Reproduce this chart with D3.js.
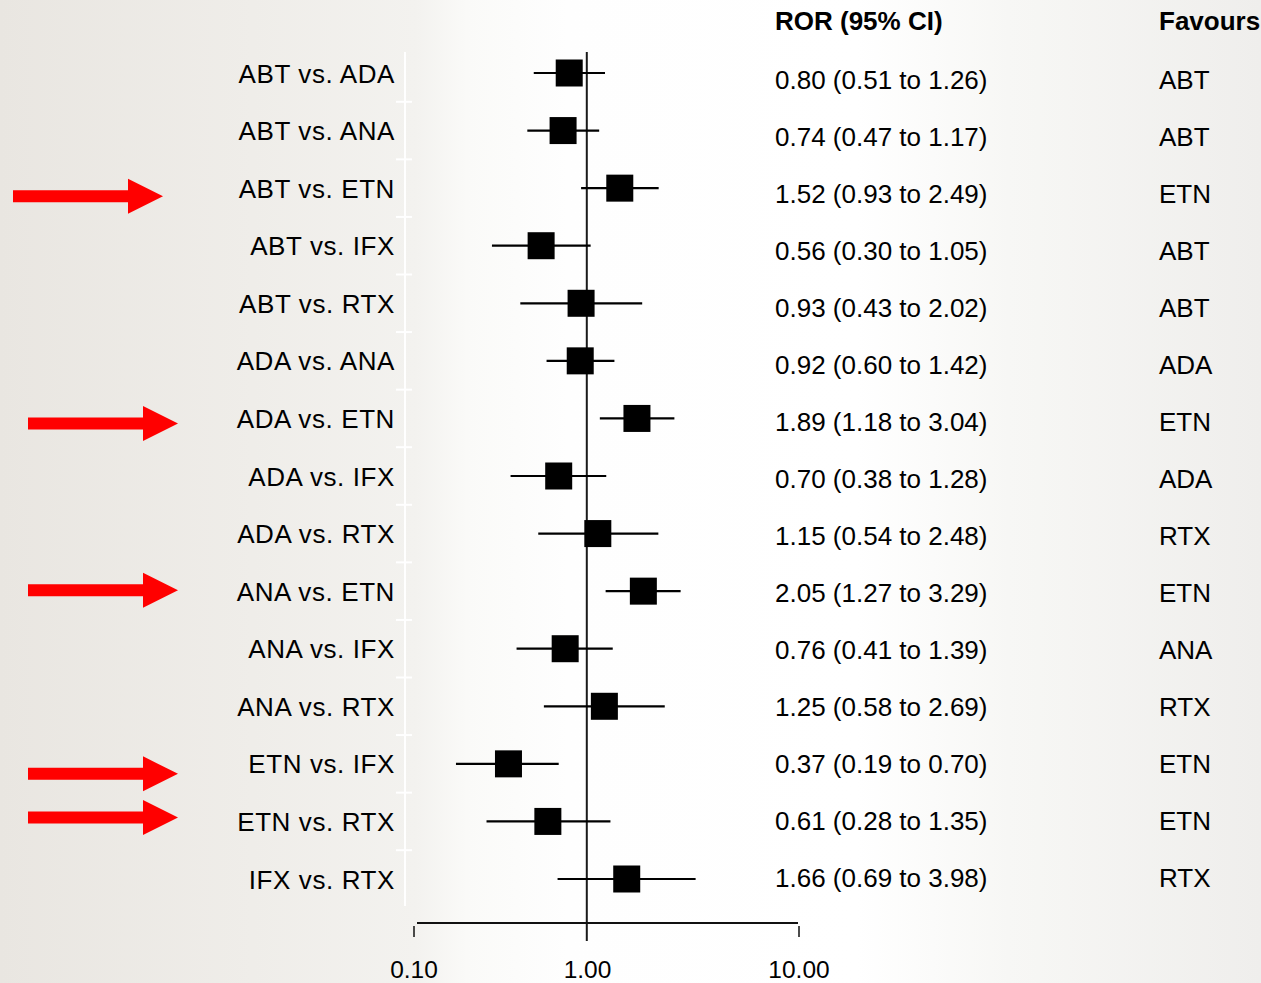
<!DOCTYPE html>
<html>
<head>
<meta charset="utf-8">
<script src="https://cdn.jsdelivr.net/npm/d3@7"></script>
<style>
  html, body { margin: 0; padding: 0; }
  body { width: 1261px; height: 983px; overflow: hidden; }
  svg text { font-family: "Liberation Sans", Arial, sans-serif; fill: #000; }
</style>
</head>
<body>
<svg id="chart" width="1261" height="983"></svg>
<script>
// ---- data ----
const comparisons = ["ABT vs. ADA","ABT vs. ANA","ABT vs. ETN","ABT vs. IFX","ABT vs. RTX",
  "ADA vs. ANA","ADA vs. ETN","ADA vs. IFX","ADA vs. RTX","ANA vs. ETN",
  "ANA vs. IFX","ANA vs. RTX","ETN vs. IFX","ETN vs. RTX","IFX vs. RTX"];
const ror   = [0.80,0.74,1.52,0.56,0.93,0.92,1.89,0.70,1.15,2.05,0.76,1.25,0.37,0.61,1.66];
const ciLow = [0.51,0.47,0.93,0.30,0.43,0.60,1.18,0.38,0.54,1.27,0.41,0.58,0.19,0.28,0.69];
const ciHigh= [1.26,1.17,2.49,1.05,2.02,1.42,3.04,1.28,2.48,3.29,1.39,2.69,0.70,1.35,3.98];
const favours = ["ABT","ABT","ETN","ABT","ABT","ADA","ETN","ADA","RTX","ETN","ANA","RTX","ETN","ETN","RTX"];
const tickValues = [0.1, 1, 10];
const tickLabels = ["0.10","1.00","10.00"];
const arrowRows = ["ABT vs. ETN","ADA vs. ETN","ANA vs. ETN","ETN vs. IFX","ETN vs. RTX"];
const headers = ["ROR (95% CI)", "Favours"];

const rows = comparisons.map((c,i)=>({label:c, est:ror[i], lo:ciLow[i], hi:ciHigh[i], fav:favours[i]}));
const fmt = d3.format(".2f");

const svg = d3.select("#chart");
const W = 1261, H = 983;

// background gradient
const defs = svg.append("defs");
const grad = defs.append("linearGradient").attr("id","bg").attr("x1","0").attr("x2","1").attr("y1","0").attr("y2","0");
[[0,"#e9e6e1"],[0.2,"#efede9"],[0.33,"#f3f2ef"],[0.37,"#fafaf8"],[0.45,"#fefefe"],[0.68,"#ffffff"],[0.8,"#f7f7f5"],[1,"#efeeec"]]
  .forEach(([o,c])=>grad.append("stop").attr("offset",o).attr("stop-color",c));
svg.append("rect").attr("width",W).attr("height",H).attr("fill","url(#bg)");

// scales
const x = d3.scaleLog().domain([0.1, 10]).range([405.4, 768.2]);
const xAxisScale = d3.scaleLog().domain([0.1, 1, 10]).range([414, 587.5, 799]);
const y = d3.scalePoint().domain(comparisons).range([73, 879]);
const yText = d3.scalePoint().domain(comparisons).range([80, 878]);
const step = y.step();

// faint white y-axis
const yAxisG = svg.append("g");
yAxisG.append("line").attr("x1",405).attr("x2",405).attr("y1",52).attr("y2",906)
  .attr("stroke","#ffffff").attr("stroke-width",2);
yAxisG.selectAll("line.t").data(comparisons.slice(1)).join("line").attr("class","t")
  .attr("x1",396).attr("x2",412)
  .attr("y1",d=>y(d)-step/2).attr("y2",d=>y(d)-step/2)
  .attr("stroke","#ffffff").attr("stroke-width",2);

// reference line at 1
svg.append("line").attr("x1",x(1)).attr("x2",x(1)).attr("y1",52).attr("y2",941)
  .attr("stroke","#1a1a1a").attr("stroke-width",2);

// x-axis
const axisY = 923;
svg.append("line").attr("x1",417).attr("x2",798).attr("y1",axisY).attr("y2",axisY)
  .attr("stroke","#111").attr("stroke-width",2);
const ticks = svg.append("g").selectAll("g").data(tickValues).join("g")
  .attr("transform",d=>`translate(${xAxisScale(d)},0)`);
ticks.filter(d=>d!==1).append("line").attr("y1",926).attr("y2",937).attr("stroke","#111").attr("stroke-width",1.5);
ticks.append("text").attr("y",978).attr("text-anchor","middle").style("font-size","24.5px")
  .text((d,i)=>tickLabels[i]);

// CI lines
svg.append("g").selectAll("line").data(rows).join("line")
  .attr("x1",d=>x(d.lo)).attr("x2",d=>x(d.hi))
  .attr("y1",d=>y(d.label)).attr("y2",d=>y(d.label))
  .attr("stroke","#000").attr("stroke-width",2.2);

// squares
const sq = 27;
svg.append("g").selectAll("rect").data(rows).join("rect")
  .attr("x",d=>x(d.est)-sq/2).attr("y",d=>y(d.label)-sq/2)
  .attr("width",sq).attr("height",sq).attr("fill","#000");

// row labels
svg.append("g").selectAll("text").data(rows).join("text")
  .attr("x",395).attr("y",d=>y(d.label)+9.5).attr("text-anchor","end")
  .style("font-size","26px").style("letter-spacing","0.6px").text(d=>d.label);

// headers
svg.append("text").attr("x",775).attr("y",30).style("font-size","26px").style("font-weight","bold")
  .text(headers[0]);
svg.append("text").attr("x",1159).attr("y",30).style("font-size","26px").style("font-weight","bold")
  .text(headers[1]);

// ROR text
svg.append("g").selectAll("text").data(rows).join("text")
  .attr("x",775).attr("y",d=>yText(d.label)+8.5)
  .style("font-size","26px")
  .text(d=>`${fmt(d.est)} (${fmt(d.lo)} to ${fmt(d.hi)})`);

// favours
svg.append("g").selectAll("text").data(rows).join("text")
  .attr("x",1159).attr("y",d=>yText(d.label)+8.5)
  .style("font-size","26px").text(d=>d.fav);

// red arrows (annotation)
const arrowDy = [8, 5, -1, 10, -4];
const arrowTail = [13, 28, 28, 28, 28];
const arrowLen = 150;
svg.append("g").selectAll("path").data(arrowRows).join("path")
  .attr("fill","#ff0000")
  .attr("d",(d,i)=>{
    const cy = y(d) + arrowDy[i];
    const x0 = arrowTail[i], tip = x0 + arrowLen, hb = tip - 35;
    const t = 6, h = 17.5;
    return `M${x0},${cy-t}L${hb},${cy-t}L${hb},${cy-h}L${tip},${cy}L${hb},${cy+h}L${hb},${cy+t}L${x0},${cy+t}Z`;
  });
</script>
</body>
</html>
